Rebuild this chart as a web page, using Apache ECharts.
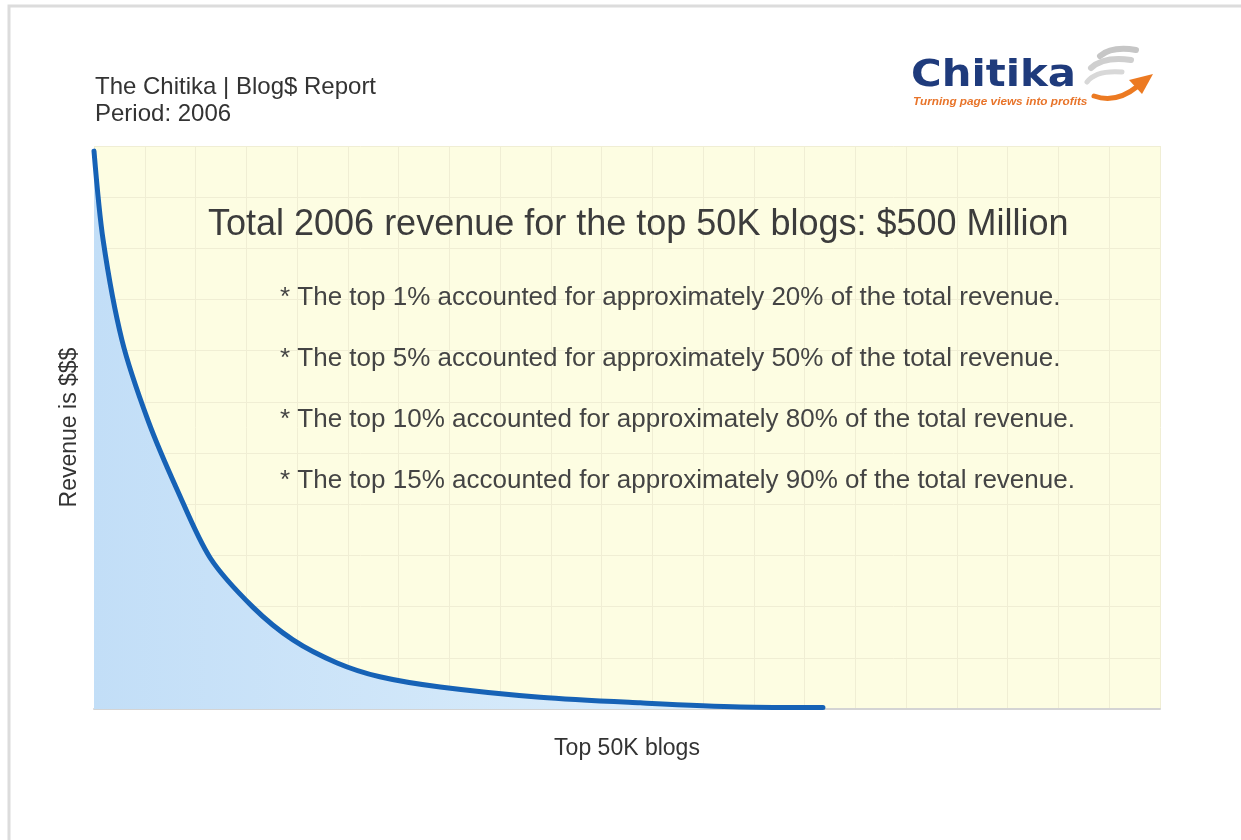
<!DOCTYPE html>
<html>
<head>
<meta charset="utf-8">
<script src="https://cdn.jsdelivr.net/npm/echarts@6/dist/echarts.min.js"></script>
<style>html,body{margin:0;padding:0;background:#fff;}#c{width:1241px;height:840px;}</style>
</head>
<body>
<div id="c"></div>
<script>
// Curve, in grid units (x: 0..21, y: 0..11)
const curveX = [0, 0.18, 0.55, 1.06, 1.64, 2.29, 3.13, 3.92, 4.79, 5.63, 6.82, 8.79, 10.76, 12.73, 14.36];
const curveY = [10.9, 9.16, 7.21, 5.65, 4.28, 2.95, 1.99, 1.35, 0.90, 0.63, 0.43, 0.23, 0.12, 0.04, 0.03];
const headerLines = ['The Chitika | Blog$ Report', 'Period: 2006'];
const headline = 'Total 2006 revenue for the top 50K blogs: $500 Million';
const bullets = [
  '* The top 1% accounted for approximately 20% of the total revenue.',
  '* The top 5% accounted for approximately 50% of the total revenue.',
  '* The top 10% accounted for approximately 80% of the total revenue.',
  '* The top 15% accounted for approximately 90% of the total revenue.'
];
const xAxisName = 'Top 50K blogs';
const yAxisName = 'Revenue is $$$';

const font = '"Liberation Sans", Arial, sans-serif';
const chart = echarts.init(document.getElementById('c'));
const data = curveX.map((x, i) => [x, curveY[i]]);

function txt(x, y, text, f, fill, extra) {
  return Object.assign({ type: 'text', x: x, y: y, z: 100,
    style: { text: text, font: f, fill: fill, textVerticalAlign: 'middle', verticalAlign: 'middle' } }, extra || {});
}
function bz(x1, y1, cx, cy, x2, y2, stroke, w) {
  return { type: 'bezierCurve', z: 100, shape: { x1: x1, y1: y1, cpx1: cx, cpy1: cy, x2: x2, y2: y2 },
    style: { stroke: stroke, lineWidth: w, fill: 'none', lineCap: 'round' } };
}

const graphics = [
  { type: 'rect', shape: { x: 9, y: 6, width: 1300, height: 900 }, style: { fill: 'none', stroke: '#dcdcdc', lineWidth: 3 }, z: -10 },
  txt(95, 87, headerLines[0], '24px ' + font, '#333'),
  txt(95, 114, headerLines[1], '24px ' + font, '#333'),
  txt(208, 225, headline, '36px ' + font, '#3c3c3c'),
  // logo
  txt(911, 76, 'Chitika', 'bold 38px "DejaVu Sans", ' + font, '#1f3b7c', { scaleX: 1.1, originX: 0, originY: 0 }),
  txt(913, 102, 'Turning page views into profits', 'italic bold 11px ' + font, '#e8742a', { scaleX: 1.07, originX: 0, originY: 0 }),
  bz(1100, 56, 1112, 46, 1136, 50, '#c6c6c6', 6),
  bz(1091, 68, 1104, 56, 1131, 60, '#cfcfcf', 6),
  bz(1087, 82, 1096, 70, 1122, 72, '#d8d8d8', 5),
  bz(1094, 96, 1116, 104, 1138, 86, '#ec7a22', 5),
  { type: 'polygon', z: 100, shape: { points: [[1129, 80], [1153, 74], [1142, 94]] }, style: { fill: '#ec7a22' } }
];
bullets.forEach((b, i) => {
  graphics.push(txt(280, 298 + i * 61, b, '26px ' + font, '#444'));
});

chart.setOption({
  animation: false,
  backgroundColor: '#fff',
  grid: { left: 94, top: 146, width: 1066, height: 563, show: true, backgroundColor: '#fdfde2', borderWidth: 0 },
  xAxis: {
    type: 'value', min: 0, max: 21, interval: 1,
    name: xAxisName, nameLocation: 'middle', nameGap: 28,
    nameTextStyle: { fontFamily: font, fontSize: 23, color: '#333' },
    axisLine: { show: true, lineStyle: { color: '#d4d4d4', width: 2 } },
    axisTick: { show: false }, axisLabel: { show: false },
    splitLine: { show: true, lineStyle: { color: '#f0eed4', width: 1 } }
  },
  yAxis: {
    type: 'value', min: 0, max: 11, interval: 1,
    name: yAxisName, nameLocation: 'middle', nameGap: 13, nameRotate: 90,
    nameTextStyle: { fontFamily: font, fontSize: 23, color: '#333' },
    axisLine: { show: false }, axisTick: { show: false }, axisLabel: { show: false },
    splitLine: { show: true, lineStyle: { color: '#f0eed4', width: 1 } }
  },
  series: [{
    type: 'line', data: data, smooth: 0.3, symbol: 'none',
    lineStyle: { color: '#1662b6', width: 5, cap: 'round' },
    areaStyle: { color: new echarts.graphic.LinearGradient(0, 0, 1, 0, [
      { offset: 0, color: '#c2def7' }, { offset: 1, color: '#e2f1fc' }
    ]), opacity: 1 }
  }],
  graphic: graphics
});
</script>
</body>
</html>
